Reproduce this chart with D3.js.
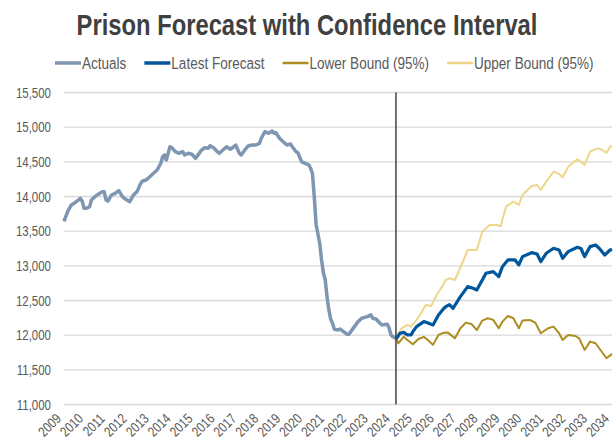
<!DOCTYPE html>
<html>
<head>
<meta charset="utf-8">
<script src="https://cdn.jsdelivr.net/npm/d3@7"></script>
<style>
  body { margin: 0; background: #fff; }
  text { font-family: "Liberation Sans", Arial, sans-serif; }
</style>
</head>
<body>
<div id="chart"></div>
<script>
// months counted from Jan 2009 (0) to Jan 2034 (300)
var yearLabels = d3.range(2009, 2035);

var actualMonths = [0,2,4,6,8,9,10,11,12,14,15,17,19,21,22,23,24,26,28,30,32,33,36,38,40,42,43,45,47,49,51,53,54,55,56,58,59,61,63,64,65,66,68,70,72,73,75,77,79,80,82,84,85,87,89,91,93,94,96,97,99,101,103,105,107,108,110,112,114,115,116,118,120,122,124,125,127,128,130,132,134,135,136,137,138,140,141,142,143,144,145,146,147,148,150,151,153,155,156,157,159,161,163,166,168,169,171,173,174,177,178,179,180,182];
var actualValues = [13640,13781,13878,13911,13950,13974,13930,13830,13830,13850,13950,13998,14036,14070,14070,13950,13935,14022,14046,14084,13998,13974,13925,14022,14070,14190,14224,14238,14286,14335,14382,14479,14574,14599,14527,14718,14704,14646,14623,14638,14646,14599,14623,14609,14551,14584,14661,14704,14695,14733,14700,14646,14623,14671,14718,14681,14718,14743,14623,14599,14671,14733,14743,14743,14767,14840,14935,14912,14945,14912,14920,14840,14790,14743,14757,14718,14646,14632,14502,14479,14455,14407,14335,13998,13600,13325,13085,12900,12800,12556,12364,12230,12172,12085,12075,12090,12051,12013,12013,12051,12123,12195,12244,12267,12292,12244,12230,12172,12147,12157,12100,12003,11979,11950];

var latestMonths = [182,184,186,188,190,191,193,197,199,202,205,208,209,211,213,217,221,224,226,229,231,235,238,240,243,247,249,251,256,259,261,264,268,271,273,276,281,283,285,288,291,293,296,299,300];
var latestValues = [11950,12028,12040,12003,12003,12051,12123,12195,12180,12147,12292,12388,12411,12440,12388,12556,12700,12676,12652,12796,12893,12916,12844,12988,13085,13085,13013,13133,13190,13171,13061,13181,13253,13229,13109,13205,13268,13250,13133,13277,13301,13253,13157,13229,13240];

var lowerMonths = [182,183,186,188,191,194,197,199,202,205,208,210,214,217,220,223,226,229,232,235,238,240,243,246,249,251,255,258,261,265,268,271,273,276,280,282,285,288,291,293,297,300];
var lowerValues = [11950,11883,11979,11931,11869,11945,11975,11935,11860,12003,12036,12040,11955,12100,12181,12162,12075,12210,12244,12220,12100,12195,12277,12244,12100,12210,12220,12181,12028,12100,12123,12028,11931,12003,11988,11955,11787,11907,11883,11811,11667,11730];

var upperMonths = [182,183,185,188,190,193,196,198,201,204,207,209,211,214,218,221,226,229,233,237,239,242,246,249,251,256,259,261,264,268,271,273,276,281,283,285,288,292,294,297,299,300];
var upperValues = [11950,12028,12100,12147,12123,12220,12340,12436,12420,12580,12700,12796,12820,12796,13037,13229,13229,13493,13589,13589,13570,13853,13925,13878,14022,14152,14166,14094,14214,14358,14325,14277,14430,14537,14502,14455,14646,14695,14680,14632,14718,14730];

var forecastStart = 182;
var yTicks = d3.range(11000, 15501, 500);

var seriesNames = ["Actuals", "Latest Forecast", "Lower Bound (95%)", "Upper Bound (95%)"];
var seriesColors = ["#7f96b3", "#00569b", "#ad8d1f", "#efd68a"];
var seriesWidths = [3.5, 3.2, 2, 2];

var W = 613, H = 440;
var margin = {top: 92.5, right: 1, bottom: 35.5, left: 64};
var narrow = 0.82;   // squeeze Liberation Sans to look like Arial Narrow

var svg = d3.select("#chart").append("svg")
    .attr("width", W)
    .attr("height", H);

var x = d3.scaleLinear().domain([0, 300]).range([margin.left, W - margin.right]);
var y = d3.scaleLinear().domain([11000, 15500]).range([H - margin.bottom, margin.top]);

// title
svg.append("text")
    .attr("transform", "translate(307,35) scale(" + narrow + ",1)")
    .attr("text-anchor", "middle")
    .attr("font-size", "29px")
    .attr("font-weight", "bold")
    .attr("fill", "#404040")
    .text("Prison Forecast with Confidence Interval");

// gridlines
svg.append("g").selectAll("line")
  .data(yTicks)
  .enter().append("line")
    .attr("x1", margin.left)
    .attr("x2", W - margin.right)
    .attr("y1", function(d){ return y(d); })
    .attr("y2", function(d){ return y(d); })
    .attr("stroke", "#d9d9d9")
    .attr("stroke-width", 1.3);

// y labels
svg.append("g").selectAll("text")
  .data(yTicks)
  .enter().append("text")
    .attr("transform", function(d){ return "translate(51," + (y(d) + 5) + ") scale(" + narrow + ",1)"; })
    .attr("text-anchor", "end")
    .attr("font-size", "14px")
    .attr("fill", "#595959")
    .text(function(d){ return d3.format(",")(d); });

// x labels
svg.append("g").selectAll("text")
  .data(yearLabels)
  .enter().append("text")
    .attr("transform", function(d){
      return "translate(" + (x((d - 2009) * 12) - 2) + "," + (H - margin.bottom + 15) + ") rotate(-45) scale(" + narrow + ",1)";
    })
    .attr("text-anchor", "end")
    .attr("font-size", "14px")
    .attr("fill", "#595959")
    .text(function(d){ return d; });

var line = d3.line()
    .x(function(d){ return x(d[0]); })
    .y(function(d){ return y(d[1]); });

var series = [
  d3.zip(actualMonths, actualValues),
  d3.zip(latestMonths, latestValues),
  d3.zip(lowerMonths, lowerValues),
  d3.zip(upperMonths, upperValues)
];

// draw upper/lower first so forecast sits on top
[3, 2, 0, 1].forEach(function(i){
  svg.append("path")
      .datum(series[i])
      .attr("fill", "none")
      .attr("stroke", seriesColors[i])
      .attr("stroke-width", seriesWidths[i])
      .attr("stroke-linejoin", "round")
      .attr("d", line);
});

// forecast start marker
svg.append("line")
    .attr("x1", x(forecastStart) - 0.5)
    .attr("x2", x(forecastStart) - 0.5)
    .attr("y1", y(15500))
    .attr("y2", y(11000))
    .attr("stroke", "#404040")
    .attr("stroke-width", 1.5);

// legend
var legend = svg.append("g");
var lx = 55;
seriesNames.forEach(function(name, i){
  legend.append("line")
      .attr("x1", lx).attr("x2", lx + 26)
      .attr("y1", 63).attr("y2", 63)
      .attr("stroke", seriesColors[i])
      .attr("stroke-width", seriesWidths[i] < 3 ? 2.5 : 3.5);
  var t = legend.append("text")
      .attr("transform", "translate(" + (lx + 27) + ",69) scale(" + narrow + ",1)")
      .attr("font-size", "16.5px")
      .attr("fill", "#595959")
      .text(name);
  lx += 27 + t.node().getComputedTextLength() * narrow + 18;
});
</script>
</body>
</html>
